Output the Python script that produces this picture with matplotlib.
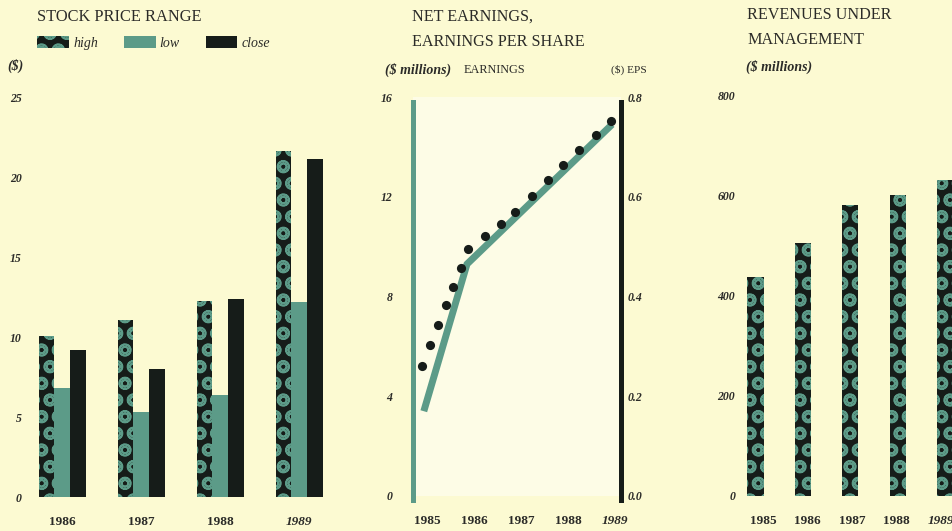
import matplotlib
matplotlib.use("Agg")
import matplotlib.pyplot as plt
import numpy as np

# ---- data ----
stock_years = ["1986", "1987", "1988", "1989"]
price_high = [10.1, 11.1, 12.3, 21.7]
price_low = [6.8, 5.3, 6.4, 12.2]
price_close = [9.2, 8.0, 12.4, 21.2]

earn_years = [1985, 1986, 1987, 1988, 1989]
earn_x = [1984.93, 1985.85, 1988.94]
earn_vals = [3.4, 9.3, 14.9]
eps_x = [1984.89, 1985.06, 1985.23, 1985.40, 1985.55, 1985.72, 1985.87,
         1986.23, 1986.57, 1986.87, 1987.23, 1987.57, 1987.89,
         1988.23, 1988.59, 1988.91]
eps_vals = [0.261, 0.303, 0.343, 0.382, 0.420, 0.457, 0.495,
            0.521, 0.545, 0.569, 0.602, 0.633, 0.664,
            0.694, 0.724, 0.752]

rev_years = ["1985", "1986", "1987", "1988", "1989"]
revenues = [437, 505, 581, 601, 631]

# ---- style ----
BG = "#fcfad2"
PANEL = "#fdfce6"
TEAL = "#5c9b88"
DARK = "#161c19"
INK = "#2b2b28"
SERIF = ["Liberation Serif", "DejaVu Serif"]
plt.rcParams["font.family"] = SERIF
plt.rcParams["hatch.linewidth"] = 1.2

W, H = 953, 531
fig = plt.figure(figsize=(W / 100, H / 100), dpi=100, facecolor=BG)


def box(l, t, r, b):
    return [l / W, 1 - b / H, (r - l) / W, (b - t) / H]


def fxy(x, y):
    return x / W, 1 - y / H


tick_font = dict(family=SERIF, weight="bold", style="italic", size=8.5)
unit_font = dict(family=SERIF, weight="bold", style="italic", size=10)


def style_axes(ax):
    ax.set_facecolor("none")
    for s in ax.spines.values():
        s.set_visible(False)
    ax.tick_params(length=0)


def year_labels(ax, labels):
    ticks = ax.get_xticklabels()
    for t, lab in zip(ticks, labels):
        t.set_fontweight("bold")
        t.set_fontsize(9.5)
        t.set_color(INK)
        if lab.endswith("1989"):
            t.set_fontstyle("italic")


# ---- panel 1: stock price range ----
ax1 = fig.add_axes(box(30, 98, 330, 497))
style_axes(ax1)
x = np.arange(len(stock_years))
bw = 0.2
b_high = ax1.bar(x - bw, price_high, bw, color=DARK, edgecolor=TEAL, lw=0,
                 hatch="Oo", label="high")
b_low = ax1.bar(x, price_low, bw, color=TEAL, lw=0, label="low")
b_close = ax1.bar(x + bw, price_close, bw, color=DARK, lw=0, label="close")
ax1.set_ylim(0, 25)
ax1.set_xlim(-0.41, 3.39)
ax1.set_yticks([0, 5, 10, 15, 20, 25])
ax1.set_yticklabels([str(v) for v in [0, 5, 10, 15, 20, 25]], **tick_font, color=INK)
ax1.tick_params(axis="y", pad=6)
ax1.set_xticks(x)
ax1.set_xticklabels(stock_years)
ax1.tick_params(axis="x", pad=14)
year_labels(ax1, stock_years)

fig.text(*fxy(37, 17), "STOCK PRICE RANGE", fontsize=11.8, color=INK, va="center")
fig.text(*fxy(7, 66), "($)", color=INK, va="center", **unit_font)
leg = fig.legend(handles=[b_high, b_low, b_close], labels=["high", "low", "close"],
                 loc="center left", bbox_to_anchor=fxy(30, 43), ncol=3,
                 frameon=False, borderpad=0, handlelength=2.3, handleheight=1.0,
                 handletextpad=0.3, columnspacing=1.85,
                 prop=dict(family=SERIF, style="italic", size=10))
for t in leg.get_texts():
    t.set_color(INK)

# ---- panel 2: net earnings / EPS ----
ax2 = fig.add_axes(box(413, 97, 621, 496))
style_axes(ax2)
ax2.set_facecolor(PANEL)
ax2.plot(earn_x, earn_vals, color=TEAL, lw=5, solid_capstyle="butt",
         solid_joinstyle="miter")
ax2.set_ylim(0, 16)
ax2.set_xlim(1984.70, 1989.13)
ax2.set_yticks([0, 4, 8, 12, 16])
ax2.set_yticklabels(["0", "4", "8", "12", "16"], **tick_font, color=INK)
ax2.tick_params(axis="y", pad=15)
ax2.set_xticks(earn_years)
ax2.set_xticklabels([str(y) for y in earn_years])
ax2.tick_params(axis="x", pad=14)
year_labels(ax2, [str(y) for y in earn_years])
ax2.spines["left"].set_visible(True)
ax2.spines["left"].set_color(TEAL)
ax2.spines["left"].set_linewidth(3.6)
ax2.spines["left"].set_bounds(-0.16, 15.8)

ax2b = ax2.twinx()
style_axes(ax2b)
ax2b.plot(eps_x, eps_vals, "o", color=DARK, ms=6.6, mew=0)
ax2b.set_ylim(0, 0.8)
ax2b.set_yticks([0.0, 0.2, 0.4, 0.6, 0.8])
ax2b.set_yticklabels(["0.0", "0.2", "0.4", "0.6", "0.8"], **tick_font, color=INK)
ax2b.tick_params(axis="y", pad=5)
ax2b.spines["right"].set_visible(True)
ax2b.spines["right"].set_color(DARK)
ax2b.spines["right"].set_linewidth(3.6)
ax2b.spines["right"].set_bounds(-0.008, 0.79)

fig.text(*fxy(412, 17), "NET EARNINGS,", fontsize=11.6, color=INK, va="center")
fig.text(*fxy(412, 42), "EARNINGS PER SHARE", fontsize=11.6, color=INK, va="center")
fig.text(*fxy(385, 70), "($ millions)", color=INK, va="center", **unit_font)
fig.text(*fxy(464, 70), "EARNINGS", fontsize=8.8, color=INK, va="center")
fig.text(*fxy(647, 70), "($) EPS", fontsize=8.2, color=INK, va="center", ha="right")

# ---- panel 3: revenues under management ----
ax3 = fig.add_axes(box(740, 95, 953, 496))
style_axes(ax3)
xr = np.arange(len(rev_years))
ax3.bar(xr, revenues, 0.34, color=DARK, edgecolor=TEAL, lw=0, hatch="Oo")
ax3.set_ylim(0, 800)
ax3.set_xlim(-0.327, 4.17)
ax3.set_yticks([0, 200, 400, 600, 800])
ax3.set_yticklabels(["0", "200", "400", "600", "800"], **tick_font, color=INK)
ax3.tick_params(axis="y", pad=3.5)
ax3.set_xticks(xr * 0.94 + 0.16)
ax3.set_xticklabels(rev_years)
ax3.tick_params(axis="x", pad=14)
year_labels(ax3, rev_years)

fig.text(*fxy(747, 15), "REVENUES UNDER", fontsize=11.6, color=INK, va="center")
fig.text(*fxy(747, 40), "MANAGEMENT", fontsize=11.6, color=INK, va="center")
fig.text(*fxy(746, 67), "($ millions)", color=INK, va="center", **unit_font)

fig.savefig("out.png", dpi=100, facecolor=BG)
